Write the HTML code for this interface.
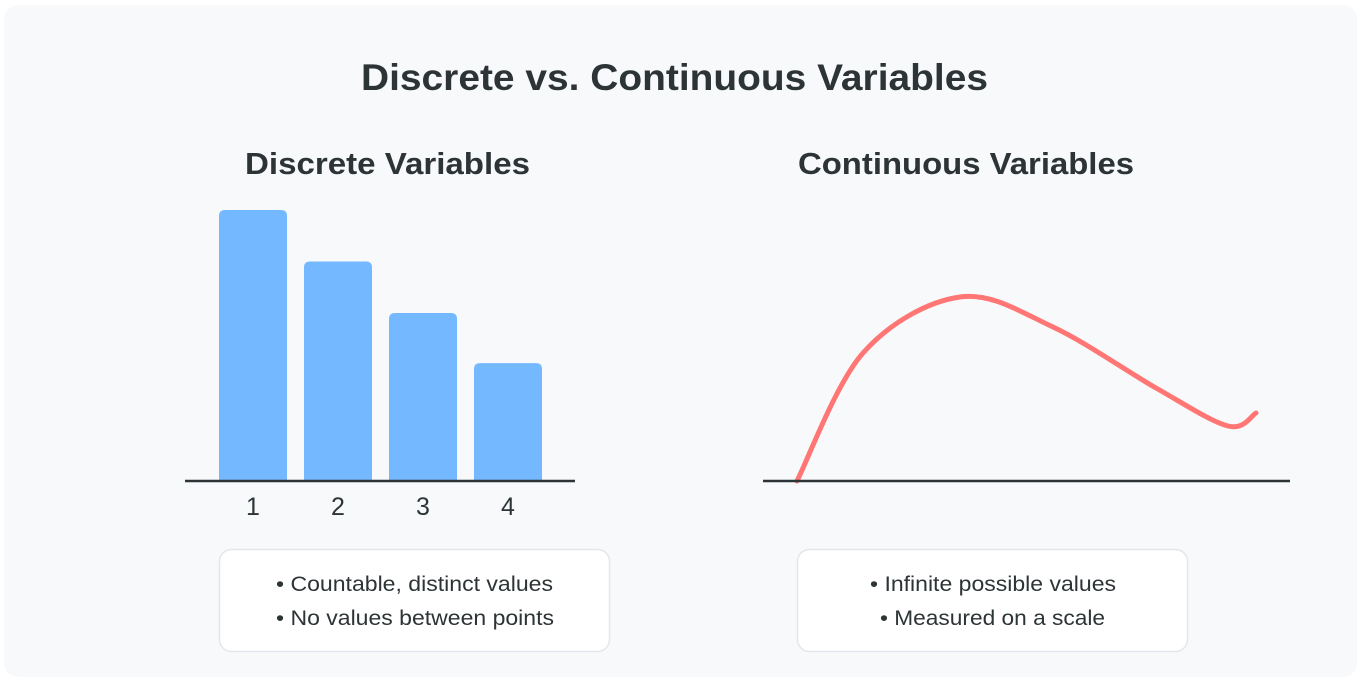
<!DOCTYPE html>
<html><head><meta charset="utf-8"><style>
html,body{margin:0;padding:0;background:#fff;}
body{width:1361px;height:680px;overflow:hidden;font-family:"Liberation Sans",Arial,sans-serif;}
</style></head><body>
<svg width="1361" height="680" xmlns="http://www.w3.org/2000/svg">
<rect x="4" y="5" width="1353" height="672" rx="14" fill="#f7f9fb"/>
<text x="361" y="90" textLength="627" lengthAdjust="spacingAndGlyphs" font-size="37" font-weight="bold" fill="#2d3436">Discrete vs. Continuous Variables</text>
<text x="245" y="174" textLength="285" lengthAdjust="spacingAndGlyphs" font-size="31" font-weight="bold" fill="#2d3436">Discrete Variables</text>
<text x="798" y="174" textLength="336" lengthAdjust="spacingAndGlyphs" font-size="31" font-weight="bold" fill="#2d3436">Continuous Variables</text>
<g id="bars"></g>
<line x1="185" y1="481" x2="575" y2="481" stroke="#2d3436" stroke-width="2.5"/>
<path id="curve" fill="none" stroke="#ff7675" stroke-width="5" stroke-linecap="round"/>
<line x1="763" y1="481" x2="1290" y2="481" stroke="#2d3436" stroke-width="2.5"/>
<rect x="219.5" y="549.5" width="390" height="102" rx="12" fill="#fff" stroke="#e3e7ec" stroke-width="1.5"/>
<text x="276" y="591" textLength="277" lengthAdjust="spacingAndGlyphs" font-size="21" fill="#2d3436">• Countable, distinct values</text>
<text x="276" y="625" textLength="278" lengthAdjust="spacingAndGlyphs" font-size="21" fill="#2d3436">• No values between points</text>
<rect x="797.5" y="549.5" width="390" height="102" rx="12" fill="#fff" stroke="#e3e7ec" stroke-width="1.5"/>
<text x="870" y="591" textLength="246" lengthAdjust="spacingAndGlyphs" font-size="21" fill="#2d3436">• Infinite possible values</text>
<text x="880" y="625" textLength="225" lengthAdjust="spacingAndGlyphs" font-size="21" fill="#2d3436">• Measured on a scale</text>
</svg>
<script>
const categories = ["1","2","3","4"];
const barValues = [100, 81, 62, 43.5];
const curveX = [0,66,163,256,359,431,459];
const curveY = [0,128,184,154,93,55,68];

const NS="http://www.w3.org/2000/svg";
const base=481;
function xBar(i){return 219+i*85;}
function yBar(v){return base - v*2.71;}
function xC(v){return 797+v;}
function yC(v){return base - v;}

const g=document.getElementById('bars');
categories.forEach((c,i)=>{
  const r=document.createElementNS(NS,'path');
  const x=xBar(i), y=yBar(barValues[i]), w=68, rr=6;
  r.setAttribute('d',`M${x},${base}V${y+rr}Q${x},${y} ${x+rr},${y}H${x+w-rr}Q${x+w},${y} ${x+w},${y+rr}V${base}Z`);
  r.setAttribute('fill','#74b9ff');
  
  
  g.appendChild(r);
  const t=document.createElementNS(NS,'text');
  t.setAttribute('x',x+w/2);t.setAttribute('y',515);
  t.setAttribute('text-anchor','middle');t.setAttribute('font-size','25');t.setAttribute('fill','#2d3436');
  t.textContent=c;
  
  
  g.appendChild(t);
});

const pts=curveX.map((x,i)=>[xC(x),yC(curveY[i])]);
let d=`M${pts[0][0]},${pts[0][1]}`;
for(let i=0;i<pts.length-1;i++){
  const p0=pts[Math.max(0,i-1)],p1=pts[i],p2=pts[i+1],p3=pts[Math.min(pts.length-1,i+2)];
  const c1=[p1[0]+(p2[0]-p0[0])/6,p1[1]+(p2[1]-p0[1])/6];
  const c2=[p2[0]-(p3[0]-p1[0])/6,p2[1]-(p3[1]-p1[1])/6];
  d+=` C${c1[0]},${c1[1]} ${c2[0]},${c2[1]} ${p2[0]},${p2[1]}`;
}
document.getElementById('curve').setAttribute('d',d);
</script>
</body></html>
